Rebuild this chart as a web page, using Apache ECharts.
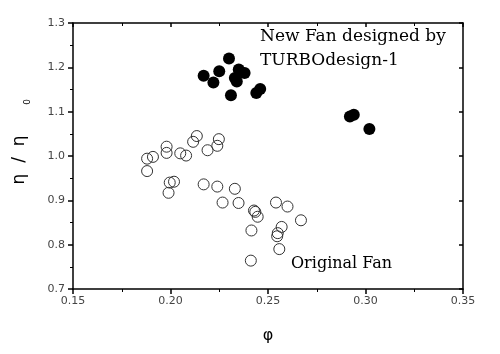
<!DOCTYPE html>
<html>
<head>
<meta charset="utf-8">
<script src="https://cdn.jsdelivr.net/npm/echarts@6/dist/echarts.min.js"></script>
<style>html,body{margin:0;padding:0;background:#fff}#c{width:500px;height:354px}</style>
</head>
<body>
<div id="c"></div>
<script>
// Original fan: [phi, eta/eta0]
var originalPhi = [0.188, 0.191, 0.188, 0.198, 0.198, 0.205, 0.208, 0.2135, 0.2116, 0.219, 0.224, 0.2248,
  0.1996, 0.2018, 0.199, 0.217, 0.224, 0.233, 0.2267, 0.2349, 0.2428, 0.2435, 0.2447,
  0.2541, 0.260, 0.2669, 0.2415, 0.257, 0.255, 0.2547, 0.2558, 0.2412];
var originalEta = [0.994, 0.998, 0.966, 1.021, 1.007, 1.006, 1.001, 1.045, 1.032, 1.013, 1.023, 1.038,
  0.940, 0.942, 0.917, 0.936, 0.931, 0.926, 0.895, 0.894, 0.877, 0.874, 0.863,
  0.895, 0.886, 0.855, 0.832, 0.840, 0.826, 0.819, 0.790, 0.764];
// New fan designed by TURBOdesign-1
var newPhi = [0.230, 0.217, 0.225, 0.222, 0.235, 0.238, 0.233, 0.234, 0.231, 0.244, 0.246, 0.292, 0.294, 0.302];
var newEta = [1.220, 1.181, 1.191, 1.166, 1.195, 1.187, 1.176, 1.168, 1.137, 1.142, 1.151, 1.089, 1.093, 1.061];
var xTicks = [0.15, 0.20, 0.25, 0.30, 0.35];
var yTicks = [0.7, 0.8, 0.9, 1.0, 1.1, 1.2, 1.3];

function zip(a, b) { return a.map(function (v, i) { return [v, b[i]]; }); }

var chart = echarts.init(document.getElementById('c'), null, {renderer: 'canvas'});
var axisLine = {show: true, lineStyle: {color: '#000', width: 1.5}};
var labelStyle = {color: '#444', fontSize: 11, fontFamily: 'DejaVu Sans'};
chart.setOption({
  animation: false,
  backgroundColor: '#fff',
  grid: {left: 73, right: 37, top: 23, bottom: 65},
  xAxis: [{
    type: 'value', min: xTicks[0], max: xTicks[xTicks.length - 1], interval: 0.05,
    axisLine: axisLine, splitLine: {show: false},
    axisTick: {show: true, inside: false, length: 5, lineStyle: {color: '#000', width: 1.5}},
    minorTick: {show: true, splitNumber: 2, length: 3, lineStyle: {color: '#000', width: 1}},
    axisLabel: Object.assign({margin: 7, formatter: function (v) { return v.toFixed(2); }}, labelStyle),
    name: 'φ', nameLocation: 'middle', nameGap: 39,
    nameTextStyle: {fontSize: 16, color: '#000', fontFamily: 'DejaVu Sans'}
  }, {
    type: 'value', position: 'top', min: xTicks[0], max: xTicks[xTicks.length - 1], interval: 0.05,
    axisLine: axisLine, splitLine: {show: false},
    axisTick: {show: true, inside: true, length: 4, lineStyle: {color: '#000', width: 1.5}},
    minorTick: {show: true, splitNumber: 2, length: 3, lineStyle: {color: '#000', width: 1}},
    axisLabel: {show: false}
  }],
  yAxis: [{
    type: 'value', min: yTicks[0], max: yTicks[yTicks.length - 1], interval: 0.1,
    axisLine: axisLine, splitLine: {show: false},
    axisTick: {show: true, inside: false, length: 5, lineStyle: {color: '#000', width: 1.5}},
    minorTick: {show: true, splitNumber: 2, length: 3, lineStyle: {color: '#000', width: 1}},
    axisLabel: Object.assign({margin: 8, formatter: function (v) { return v.toFixed(1); }}, labelStyle)
  }, {
    type: 'value', position: 'right', min: yTicks[0], max: yTicks[yTicks.length - 1], interval: 0.1,
    axisLine: axisLine, splitLine: {show: false},
    axisTick: {show: true, inside: true, length: 4, lineStyle: {color: '#000', width: 1.5}},
    minorTick: {show: false},
    axisLabel: {show: false}
  }],
  graphic: [
    {type: 'text', x: 20, y: 160, rotation: Math.PI / 2,
      style: {text: 'η  /  η', font: '17px "DejaVu Sans"', fill: '#000', align: 'center', verticalAlign: 'middle'}},
    {type: 'text', x: 28, y: 102, rotation: Math.PI / 2,
      style: {text: '0', font: '9px "DejaVu Sans"', fill: '#000', align: 'center', verticalAlign: 'middle'}},
    {type: 'text', left: 260, top: 28, style: {text: 'New Fan designed by', font: '17px "DejaVu Serif"', fill: '#000'}},
    {type: 'text', left: 260, top: 52, style: {text: 'TURBOdesign-1', font: '17px "DejaVu Serif"', fill: '#000'}},
    {type: 'text', left: 291, top: 256, style: {text: 'Original Fan', font: '16px "DejaVu Serif"', fill: '#000'}}
  ],
  series: [{
    name: 'Original Fan', type: 'scatter', data: zip(originalPhi, originalEta),
    symbol: 'circle', symbolSize: 11,
    itemStyle: {color: 'rgba(0,0,0,0)', opacity: 1, borderColor: '#333', borderWidth: 1}
  }, {
    name: 'New Fan', type: 'scatter', data: zip(newPhi, newEta),
    symbol: 'circle', symbolSize: 12,
    itemStyle: {color: '#000', opacity: 1, borderColor: '#000', borderWidth: 0}
  }]
});
</script>
</body>
</html>
